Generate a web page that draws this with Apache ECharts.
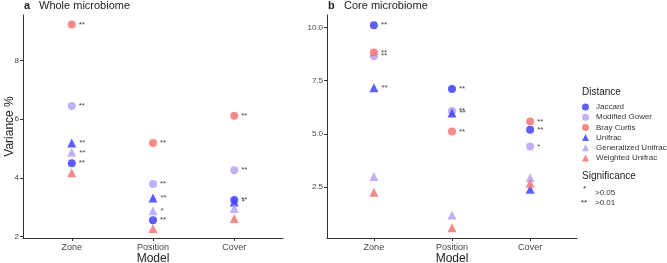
<!DOCTYPE html>
<html>
<head>
<meta charset="utf-8">
<script src="https://cdn.jsdelivr.net/npm/echarts@6/dist/echarts.min.js"></script>
<style>
  html, body { margin: 0; padding: 0; background: #fff; }
  #chart { width: 667px; height: 263px; }
</style>
</head>
<body>
<div id="chart"></div>
<script>
// data ---------------------------------------------------------------
var models = ['Zone', 'Position', 'Cover'];
var distances = ['Jaccard', 'Modified Gower', 'Bray Curtis', 'Unifrac', 'Generalized Unifrac', 'Weighted Unifrac'];

// whole microbiome, variance % per model (Zone, Position, Cover)
var wholeJaccard = [4.50, 2.56, 3.25];
var wholeGower = [6.45, 3.79, 4.26];
var wholeBray = [9.22, 5.19, 6.12];
var wholeUnifrac = [5.19, 3.32, 3.18];
var wholeGenUnifrac = [4.87, 2.88, 2.96];
var wholeWUnifrac = [4.18, 2.28, 2.62];

var wholeSigJaccard = ['**', '**', '**'];
var wholeSigGower = ['**', '**', '**'];
var wholeSigBray = ['**', '**', '**'];
var wholeSigUnifrac = ['**', '**', '*'];
var wholeSigGenUnifrac = ['**', '*', ''];
var wholeSigWUnifrac = ['', '', ''];

// core microbiome
var coreJaccard = [10.11, 7.11, 5.19];
var coreGower = [8.65, 6.08, 4.40];
var coreBray = [8.83, 5.11, 5.58];
var coreUnifrac = [7.17, 5.98, 2.39];
var coreGenUnifrac = [2.99, 1.18, 2.94];
var coreWUnifrac = [2.25, 0.58, 2.67];

var coreSigJaccard = ['**', '**', '**'];
var coreSigGower = ['**', '**', '*'];
var coreSigBray = ['**', '**', '**'];
var coreSigUnifrac = ['**', '**', ''];
var coreSigGenUnifrac = ['', '', ''];
var coreSigWUnifrac = ['', '', ''];

var wholeTicks = [2, 4, 6, 8];
var coreTicks = [2.5, 5.0, 7.5, 10.0];

// styles -------------------------------------------------------------
var colors = ['#4040ff', '#b7a2f4', '#f77474', '#4040ff', '#b7a2f4', '#f77474'];
var shapes = ['circle', 'circle', 'circle', 'triangle', 'triangle', 'triangle'];
var font = 'Liberation Sans';

var wholeVals = [wholeJaccard, wholeGower, wholeBray, wholeUnifrac, wholeGenUnifrac, wholeWUnifrac];
var wholeSigs = [wholeSigJaccard, wholeSigGower, wholeSigBray, wholeSigUnifrac, wholeSigGenUnifrac, wholeSigWUnifrac];
var coreVals = [coreJaccard, coreGower, coreBray, coreUnifrac, coreGenUnifrac, coreWUnifrac];
var coreSigs = [coreSigJaccard, coreSigGower, coreSigBray, coreSigUnifrac, coreSigGenUnifrac, coreSigWUnifrac];

function makeSeries(vals, sigs, idx) {
    return distances.map(function (name, i) {
        return {
            name: name,
            type: 'scatter',
            xAxisIndex: idx,
            yAxisIndex: idx,
            symbol: shapes[i],
            symbolSize: shapes[i] == 'circle' ? 8 : 9,
            itemStyle: { color: colors[i], opacity: 0.85 },
            label: {
                show: true,
                position: 'right',
                distance: 3,
                fontSize: 8,
                fontFamily: font,
                color: '#222',
                formatter: function (p) { return sigs[i][p.dataIndex]; }
            },
            emphasis: { disabled: true },
            data: vals[i].map(function (v, j) { return [j + 1, v]; })
        };
    });
}

var axisLine = { lineStyle: { color: '#333', width: 1 } };
var axisTick = { length: 3, lineStyle: { color: '#333' } };

function xAx(idx) {
    return {
        type: 'value', gridIndex: idx, min: 0.4, max: 3.6,
        name: 'Model', nameLocation: 'middle', nameGap: 15, nameMoveOverlap: false,
        nameTextStyle: { fontSize: 12, fontFamily: font, color: '#222' },
        axisLine: axisLine,
        axisTick: Object.assign({ customValues: [1, 2, 3] }, axisTick),
        axisLabel: {
            customValues: [1, 2, 3], fontSize: 9, fontFamily: font, color: '#444', margin: 5,
            formatter: function (v) { return models[Math.round(v) - 1]; }
        },
        splitLine: { show: false }
    };
}

function yAx(idx, min, max, ticks, digits) {
    return {
        type: 'value', gridIndex: idx, min: min, max: max,
        axisLine: Object.assign({ show: true }, axisLine),
        axisTick: Object.assign({ show: true, customValues: ticks }, axisTick),
        axisLabel: {
            customValues: ticks, fontSize: 8, fontFamily: font, color: '#444', margin: 4,
            formatter: function (v) { return v.toFixed(digits); }
        },
        splitLine: { show: false }
    };
}

var myChart = echarts.init(document.getElementById('chart'));
var option = {
    animation: false,
    grid: [
        { left: 23, top: 15, width: 260, height: 223, outerBoundsMode: 'none' },
        { left: 327, top: 15, width: 250, height: 223, outerBoundsMode: 'none' }
    ],
    xAxis: [xAx(0), xAx(1)],
    yAxis: [
        Object.assign(yAx(0, 1.955, 9.545, wholeTicks, 0), {
            name: 'Variance %', nameLocation: 'middle', nameGap: 7, nameMoveOverlap: false,
            nameTextStyle: { fontSize: 12, fontFamily: font, color: '#222' }
        }),
        yAx(1, 0.1, 10.59, coreTicks, 1)
    ],
    legend: {
        orient: 'vertical',
        left: 582, top: 103, padding: 0,
        itemWidth: 7, itemHeight: 7, itemGap: 2.2,
        selectedMode: false,
        textStyle: { fontSize: 8, lineHeight: 8, fontFamily: font, color: '#333', padding: [0, 0, 0, 2] },
        data: distances
    },
    graphic: [
        { type: 'text', left: 24, top: 0, style: { text: 'a', font: 'bold 11px ' + font, fill: '#222' } },
        { type: 'text', left: 39, top: 0, style: { text: 'Whole microbiome', font: '11px ' + font, fill: '#222' } },
        { type: 'text', left: 328, top: 0, style: { text: 'b', font: 'bold 11px ' + font, fill: '#222' } },
        { type: 'text', left: 344, top: 0, style: { text: 'Core microbiome', font: '11px ' + font, fill: '#222' } },
        { type: 'text', left: 582, top: 87, style: { text: 'Distance', font: '10px ' + font, fill: '#222' } },
        { type: 'text', left: 582, top: 171, style: { text: 'Significance', font: '10px ' + font, fill: '#222' } },
        { type: 'text', left: 583, top: 185, style: { text: '*', font: '8px ' + font, fill: '#222' } },
        { type: 'text', left: 595, top: 189, style: { text: '>0.05', font: '8px ' + font, fill: '#333' } },
        { type: 'text', left: 581, top: 199, style: { text: '**', font: '8px ' + font, fill: '#222' } },
        { type: 'text', left: 595, top: 199, style: { text: '>0.01', font: '8px ' + font, fill: '#333' } }
    ],
    series: makeSeries(wholeVals, wholeSigs, 0).concat(makeSeries(coreVals, coreSigs, 1))
};

option && myChart.setOption(option);
</script>
</body>
</html>
